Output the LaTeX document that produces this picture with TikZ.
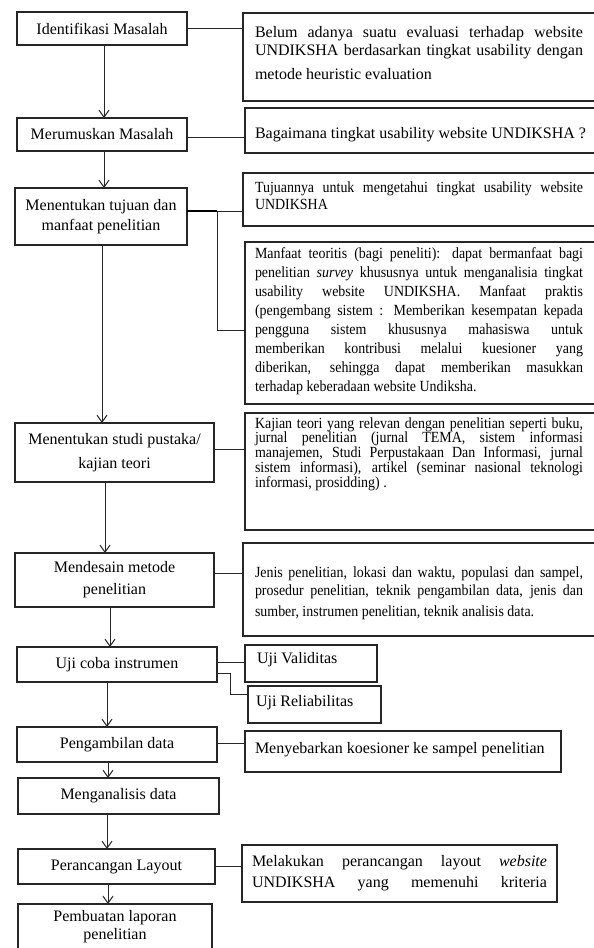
\documentclass[tikz,border=0pt]{standalone}
\usepackage{fontspec}
\setmainfont{Liberation Serif}
\newfontfamily\condserif[FakeStretch=0.9]{Liberation Serif}
\usetikzlibrary{arrows.meta,calc}
\newcommand{\nohyph}{\sloppy\hyphenpenalty=10000\relax\exhyphenpenalty=10000\relax}
\begin{document}
\begin{tikzpicture}[x=1pt,y=-1pt,
  every node/.style={inner sep=0pt, outer sep=0pt},
  lbox/.style={draw=black!85, line width=1.1pt, anchor=north west, align=center, font=\fontsize{16}{18}\selectfont},
  rbox/.style={draw=black!85, line width=1.1pt, anchor=north west},
  txt/.style={anchor=base west, font=\fontsize{16}{18}\selectfont},
  jtxt/.style={anchor=base west, text width=328pt, align=justify},
  big/.style={font=\fontsize{16}{18}\selectfont\nohyph},
  small/.style={font=\condserif\fontsize{15.5}{#1}\selectfont\nohyph},
  link/.style={draw=black!85, line width=1pt},
  arr/.style={link, -{Straight Barb[length=7pt,width=10pt]}}]
\useasboundingbox (0,0) rectangle (594,948);
\fill[white] (0,0) rectangle (594,948);
\clip (0,0) rectangle (594,948);

% left column
\node[lbox, minimum width=170pt, minimum height=33pt] (L1) at (17,12) {Identifikasi Masalah};
\node[lbox, minimum width=170pt, minimum height=33pt] (L2) at (17,118) {Merumuskan Masalah};
\node[lbox, minimum width=172pt, minimum height=57pt] (L3) at (15,188) {Menentukan tujuan dan\\[2pt]manfaat penelitian};
\node[lbox, minimum width=199pt, minimum height=59pt] (L4) at (15,423) {Menentukan studi pustaka/\\[6pt]kajian teori};
\node[lbox, minimum width=199pt, minimum height=54pt] (L5) at (15,553) {Mendesain metode\\[4pt]penelitian};
\node[lbox, minimum width=200pt, minimum height=35pt] (L6) at (17,647) {Uji coba instrumen};
\node[lbox, minimum width=200pt, minimum height=35pt] (L7) at (17,727) {Pengambilan data};
\node[lbox, minimum width=201pt, minimum height=36pt] (L8) at (18,778) {Menganalisis data};
\node[lbox, minimum width=197pt, minimum height=35pt] (L9) at (18,849) {Perancangan Layout};
\node[lbox, minimum width=194pt, minimum height=46pt] (L10) at (18,904) {Pembuatan laporan\\penelitian};

% right column boxes
\node[rbox, minimum width=357pt, minimum height=88pt] (R1) at (243,13) {};
\node[rbox, minimum width=355pt, minimum height=45pt] (R2) at (245,108) {};
\node[rbox, minimum width=357pt, minimum height=53pt] (R3) at (243,173) {};
\node[rbox, minimum width=355pt, minimum height=162pt] (R4) at (245,242) {};
\node[rbox, minimum width=355pt, minimum height=117pt] (R5) at (245,413) {};
\node[rbox, minimum width=357pt, minimum height=93pt] (R6) at (243,543) {};
\node[rbox, minimum width=132pt, minimum height=37pt] (R7) at (245,645) {};
\node[rbox, minimum width=133pt, minimum height=37pt] (R8) at (248,686) {};
\node[rbox, minimum width=316pt, minimum height=41pt] (R9) at (245,731) {};
\node[rbox, minimum width=315pt, minimum height=57pt] (R10) at (242,845) {};

% right column texts
\node[jtxt, big] (R1t) at (255,37) {Belum adanya suatu evaluasi terhadap website\linebreak UNDIKSHA berdasarkan tingkat usability dengan\vspace{6pt}\linebreak metode heuristic evaluation};
\node[txt] (R2t) at (255,138) {Bagaimana tingkat usability website UNDIKSHA ?};
\node[jtxt, small=17] (R3t) at (255,192) {Tujuannya untuk mengetahui tingkat usability website\linebreak UNDIKSHA};
\node[jtxt, small=19] (R4t) at (255,258) {Manfaat teoritis (bagi peneliti): dapat bermanfaat bagi\linebreak penelitian \textit{survey} khususnya untuk menganalisia tingkat\linebreak usability website UNDIKSHA. Manfaat praktis\linebreak (pengembang sistem : Memberikan kesempatan kepada\linebreak pengguna sistem khususnya mahasiswa untuk\linebreak memberikan kontribusi melalui kuesioner yang\linebreak diberikan, sehingga dapat memberikan masukkan\linebreak terhadap keberadaan website Undiksha.};
\node[jtxt, small=14.8] (R5t) at (255,428) {Kajian teori yang relevan dengan penelitian seperti buku,\linebreak jurnal penelitian (jurnal TEMA, sistem informasi\linebreak manajemen, Studi Perpustakaan Dan Informasi, jurnal\linebreak sistem informasi), artikel (seminar nasional teknologi\linebreak informasi, prosidding) .};
\node[jtxt, small=18] (R6t) at (255,577) {Jenis penelitian, lokasi dan waktu, populasi dan sampel,\linebreak prosedur penelitian, teknik pengambilan data, jenis dan\vspace{3pt}\linebreak sumber, instrumen penelitian, teknik analisis data.};
\node[txt] (R7t) at (257,663) {Uji Validitas};
\node[txt] (R8t) at (256,706) {Uji Reliabilitas};
\node[txt] (R9t) at (255,753) {Menyebarkan koesioner ke sampel penelitian};
\node[anchor=base west, text width=295pt, align=justify, font=\fontsize{16}{21}\selectfont\nohyph] (R10t) at (252,866) {Melakukan perancangan layout \textit{website}\linebreak \makebox[295pt][s]{UNDIKSHA yang memenuhi kriteria}};

% horizontal connectors
\draw[link] (L1.east) -- (L1.east -| R1.west);
\draw[link] ([yshift=-2.5pt]L2.east) -- ([yshift=-2.5pt]L2.east -| R2.west);
\coordinate (J) at ($(L3.north east)+(30,23)$);
\coordinate (R4a) at ($(R4.north west)+(0,88)$);
\draw[line width=2.6pt, black] (L3.north east |- J) -- (J);
\draw[link] (J) -- (J -| R3.west);
\draw[link] (J) |- (R4a);
\draw[link] ([yshift=3.5pt]L4.east) -- ([yshift=3.5pt]L4.east -| R5.west);
\draw[link] ([yshift=7pt]L5.east) -- ([yshift=7pt]L5.east -| R6.west);
\draw[link] ([yshift=2.5pt]L6.east) -- ([yshift=2.5pt]L6.east -| R7.west);
\coordinate (U2) at ($(L6.east)+(0,8.5)$);
\coordinate (U3) at ($(R8.west)+(0,-10.5)$);
\draw[link] (U2) -- ++(13,0) |- (U3);
\draw[link] ([yshift=1.5pt]L7.east) -- ([yshift=1.5pt]L7.east -| R9.west);
\draw[link] (L9.east) -- (L9.east -| R10.west);

% vertical arrows
\coordinate (a1) at ($(L1.south)+(2,0)$);
\coordinate (a2) at ($(L2.south)+(2,0)$);
\coordinate (a3) at ($(L3.south)+(1,0)$);
\coordinate (a4) at ($(L4.south)+(-9.5,0)$);
\coordinate (a5) at ($(L5.south)+(-4.5,0)$);
\coordinate (a6) at ($(L6.south)+(-10,0)$);
\coordinate (a7) at ($(L7.south)+(-9,0)$);
\coordinate (a8) at ($(L8.south)+(-11.5,0)$);
\coordinate (a9) at ($(L9.south)+(-8.5,0)$);
\draw[arr] (a1) -- (a1 |- L2.north);
\draw[arr] (a2) -- (a2 |- L3.north);
\draw[arr] (a3) -- (a3 |- L4.north);
\draw[arr] (a4) -- (a4 |- L5.north);
\draw[arr] (a5) -- (a5 |- L6.north);
\draw[arr] (a6) -- (a6 |- L7.north);
\draw[arr] (a7) -- (a7 |- L8.north);
\draw[arr] (a8) -- (a8 |- L9.north);
\draw[arr] (a9) -- (a9 |- L10.north);
\end{tikzpicture}
\end{document}
